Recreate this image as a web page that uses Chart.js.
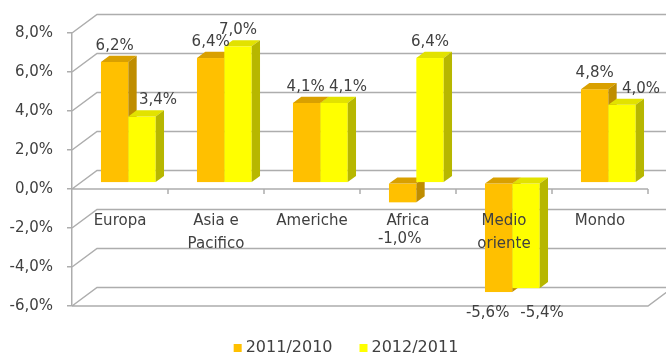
<!DOCTYPE html>
<html>
<head>
<meta charset="utf-8">
<script src="https://cdn.jsdelivr.net/npm/chart.js@4.4.0/dist/chart.umd.min.js"></script>
<style>
  html, body { margin: 0; padding: 0; background: #fff; }
  #wrap { width: 666px; height: 357px; position: relative; }
</style>
</head>
<body>
<div id="wrap"><canvas id="growthChart"></canvas></div>
<script>
var regions = [["Europa"], ["Asia e", "Pacifico"], ["Americhe"], ["Africa"], ["Medio", "oriente"], ["Mondo"]];
var seriesNames = ["2011/2010", "2012/2011"];
var growth2011 = [6.2, 6.4, 4.1, -1.0, -5.6, 4.8];
var growth2012 = [3.4, 7.0, 4.1, 6.4, -5.4, 4.0];
var yTicks = [-6, -4, -2, 0, 2, 4, 6, 8];

// depth of the 3D box (front plane -> back wall), bars sit in the middle third
var DEPTH = { x: 25, y: -18.5 };
var faces = [
  { front: "#FFC000", top: "#D9A000", side: "#BF8D00" },
  { front: "#FFFF00", top: "#E2E200", side: "#B7B700" }
];
var gridColor = "#ADADAD";
var textColor = "#404040";
var FONT = "15px 'DejaVu Sans', sans-serif";

// hand placed value labels: "dataset:index" -> [dx, dy]
var labelNudge = {
  "0:2": [-1, 0], "0:3": [-3, 21], "0:4": [-11, 5],
  "1:0": [16, 0], "1:2": [14, 0], "1:4": [16, 9], "1:5": [19, 0]
};

function pct(v) { return v.toFixed(1).replace(".", ",") + "%"; }

function poly(ctx, pts, color) {
  ctx.beginPath();
  ctx.moveTo(pts[0][0], pts[0][1]);
  for (var i = 1; i < pts.length; i++) ctx.lineTo(pts[i][0], pts[i][1]);
  ctx.closePath();
  ctx.fillStyle = color;
  ctx.fill();
}

function barBox(chart, d, j) {
  var p = chart.getDatasetMeta(d).data[j].getProps(["x", "y", "base", "width"], true);
  var dx = DEPTH.x / 3, dy = DEPTH.y / 3;
  return {
    l: p.x - p.width / 2 + dx,
    r: p.x + p.width / 2 + dx,
    t: Math.min(p.y, p.base) + dy,
    b: Math.max(p.y, p.base) + dy,
    cx: p.x + dx
  };
}

var box3d = {
  id: "box3d",
  beforeDatasetsDraw: function (chart) {
    var ctx = chart.ctx, a = chart.chartArea, ys = chart.scales.y, xs = chart.scales.x;
    ctx.save();
    ctx.strokeStyle = gridColor;
    ctx.lineWidth = 1.5;
    ctx.beginPath();
    // side wall diagonals + back wall gridlines
    yTicks.forEach(function (t) {
      var py = ys.getPixelForValue(t);
      ctx.moveTo(a.left, py);
      ctx.lineTo(a.left + DEPTH.x, py + DEPTH.y);
      ctx.lineTo(a.right + DEPTH.x, py + DEPTH.y);
    });
    // floor outline
    var fy = ys.getPixelForValue(yTicks[0]);
    ctx.moveTo(a.left, fy);
    ctx.lineTo(a.right, fy);
    ctx.lineTo(a.right + DEPTH.x, fy + DEPTH.y);
    // category axis at zero with tick marks between regions
    var zy = ys.getPixelForValue(0);
    ctx.moveTo(a.left, zy);
    ctx.lineTo(a.right, zy);
    for (var i = 1; i <= regions.length; i++) {
      var px = xs.getPixelForValue(i - 0.5);
      ctx.moveTo(px, zy);
      ctx.lineTo(px, zy + 5);
    }
    ctx.stroke();
    ctx.restore();
  },
  beforeDatasetDraw: function () {
    return false; // bars are painted as boxes below
  },
  afterDatasetsDraw: function (chart) {
    var ctx = chart.ctx;
    var dx = DEPTH.x / 3, dy = DEPTH.y / 3;
    ctx.save();
    for (var j = 0; j < regions.length; j++) {
      for (var d = 0; d < chart.data.datasets.length; d++) {
        var b = barBox(chart, d, j), f = faces[d];
        ctx.fillStyle = f.front;
        ctx.fillRect(b.l, b.t, b.r - b.l, b.b - b.t);
        poly(ctx, [[b.l, b.t], [b.l + dx, b.t + dy], [b.r + dx, b.t + dy], [b.r, b.t]], f.top);
        poly(ctx, [[b.r, b.t], [b.r + dx, b.t + dy], [b.r + dx, b.b + dy], [b.r, b.b]], f.side);
      }
    }
    ctx.restore();
  },
  afterDraw: function (chart) {
    var ctx = chart.ctx, ys = chart.scales.y, xs = chart.scales.x;
    var zy = ys.getPixelForValue(0);
    ctx.save();
    ctx.font = FONT;
    ctx.fillStyle = textColor;
    ctx.textAlign = "center";
    ctx.textBaseline = "middle";
    // region names under the zero axis
    regions.forEach(function (lines, i) {
      var cx = xs.getPixelForValue(i);
      lines.forEach(function (s, k) {
        ctx.fillText(s, cx, zy + 32 + k * 23);
      });
    });
    // value labels
    chart.data.datasets.forEach(function (ds, d) {
      ds.data.forEach(function (v, j) {
        var b = barBox(chart, d, j);
        var n = labelNudge[d + ":" + j] || [0, 0];
        var y = v >= 0 ? b.t - 16 : b.b + 16;
        ctx.fillText(pct(v), b.cx + n[0], y + n[1]);
      });
    });

    // legend row
    ctx.font = "16px 'DejaVu Sans', sans-serif";
    ctx.textAlign = "left";
    var sq = 8, gap = 4, between = 27, ly = 348;
    var widths = seriesNames.map(function (s) { return ctx.measureText(s).width; });
    var total = widths.reduce(function (s, w) { return s + sq + gap + w; }, 0) + between * (seriesNames.length - 1);
    var x = 346 - total / 2;
    seriesNames.forEach(function (s, d) {
      ctx.fillStyle = faces[d].front;
      ctx.fillRect(x, ly - sq / 2, sq, sq);
      ctx.fillStyle = textColor;
      ctx.fillText(s, x + sq + gap, ly);
      x += sq + gap + widths[d] + between;
    });
    ctx.restore();
  }
};

Chart.defaults.font.family = "'DejaVu Sans', sans-serif";
Chart.defaults.font.size = 15;
Chart.defaults.color = textColor;

new Chart(document.getElementById("growthChart"), {
  type: "bar",
  data: {
    labels: regions,
    datasets: [
      { label: seriesNames[0], data: growth2011, backgroundColor: faces[0].front, borderWidth: 0 },
      { label: seriesNames[1], data: growth2012, backgroundColor: faces[1].front, borderWidth: 0 }
    ]
  },
  options: {
    responsive: true,
    maintainAspectRatio: false,
    animation: false,
    categoryPercentage: 0.57,
    barPercentage: 1.0,
    layout: { padding: { top: 33, right: 18, left: 0, bottom: 51 } },
    scales: {
      x: { display: false, offset: true },
      y: {
        min: -6,
        max: 8,
        afterFit: function (scale) { scale.width = 72; },
        ticks: { stepSize: 2, padding: 14, callback: function (v) { return pct(v); } },
        grid: { drawOnChartArea: false, drawTicks: true, tickLength: 5, color: gridColor, lineWidth: 1.5 },
        border: { display: true, color: gridColor, width: 1.5 }
      }
    },
    plugins: {
      legend: { display: false },
      tooltip: { enabled: false }
    }
  },
  plugins: [box3d]
});
</script>
</body>
</html>
